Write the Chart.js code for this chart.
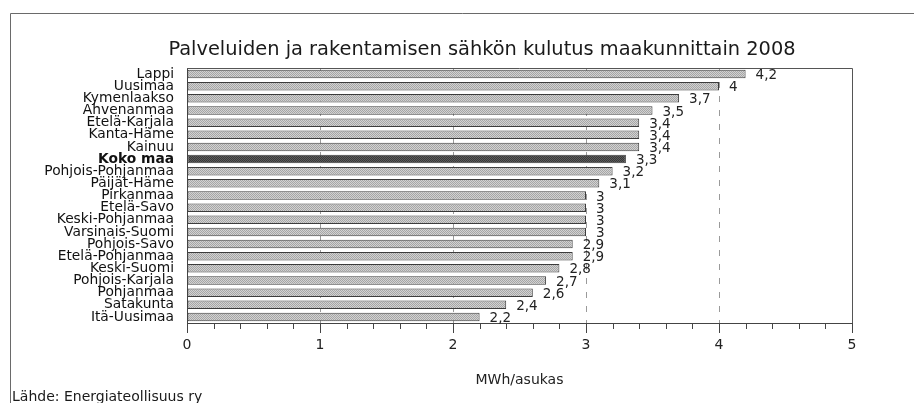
<!DOCTYPE html>
<html>
<head>
<meta charset="utf-8">
<script src="https://cdn.jsdelivr.net/npm/chart.js@4/dist/chart.umd.min.js"></script>
<style>
html,body{margin:0;padding:0;background:#fff;}
#wrap{width:914px;height:403px;position:relative;}
</style>
</head>
<body>
<div id="wrap"><canvas id="c" width="914" height="403"></canvas></div>
<script>
const chartTitle = "Palveluiden ja rakentamisen sähkön kulutus maakunnittain 2008";
const axisTitle = "MWh/asukas";
const sourceText = "Lähde: Energiateollisuus ry";
const categories = ["Lappi","Uusimaa","Kymenlaakso","Ahvenanmaa","Etelä-Karjala","Kanta-Häme","Kainuu","Koko maa","Pohjois-Pohjanmaa","Päijät-Häme","Pirkanmaa","Etelä-Savo","Keski-Pohjanmaa","Varsinais-Suomi","Pohjois-Savo","Etelä-Pohjanmaa","Keski-Suomi","Pohjois-Karjala","Pohjanmaa","Satakunta","Itä-Uusimaa"];
const values = [4.2,4,3.7,3.5,3.4,3.4,3.4,3.3,3.2,3.1,3,3,3,3,2.9,2.9,2.8,2.7,2.6,2.4,2.2];
const highlightCategory = "Koko maa";
const xMin = 0, xMax = 5, xStep = 1, minorStep = 0.2;

const FONT = "'DejaVu Sans', sans-serif";

function makePattern(c1, c2){
  const p = document.createElement('canvas');
  p.width = 2; p.height = 2;
  const g = p.getContext('2d');
  g.fillStyle = c1; g.fillRect(0,0,2,2);
  g.fillStyle = c2; g.fillRect(0,0,1,1); g.fillRect(1,1,1,1);
  return document.getElementById('c').getContext('2d').createPattern(p,'repeat');
}
const lightFill = makePattern('#d2d2d2','#a6a6a6');
const darkFill = makePattern('#5c5c5c','#383838');

const decorPlugin = {
  id:'decor',
  beforeDraw(chart){
    const ctx = chart.ctx;
    ctx.save();
    ctx.fillStyle = '#fff';
    ctx.fillRect(0,0,chart.width,chart.height);
    ctx.strokeStyle = '#6a6a6a';
    ctx.lineWidth = 1;
    ctx.beginPath();
    ctx.moveTo(10.5,403); ctx.lineTo(10.5,13.5); ctx.lineTo(914,13.5);
    ctx.stroke();
    ctx.fillStyle = '#1a1a1a';
    ctx.font = "19.4px " + FONT;
    ctx.textAlign = 'center';
    ctx.textBaseline = 'alphabetic';
    ctx.fillText(chartTitle, 482, 54.5);
    ctx.font = "14px " + FONT;
    ctx.textAlign = 'left';
    ctx.fillText(sourceText, 12, 401);
    ctx.restore();
  },
  afterDatasetsDraw(chart){
    const ctx = chart.ctx;
    const a = chart.chartArea;
    const xs = chart.scales.x, ys = chart.scales.y;
    ctx.save();
    ctx.strokeStyle = '#555';
    ctx.lineWidth = 1;
    ctx.beginPath();
    ctx.moveTo(a.left, a.top+0.5); ctx.lineTo(Math.round(a.right)+0.5, a.top+0.5); ctx.lineTo(Math.round(a.right)+0.5, a.bottom);
    ctx.stroke();
    ctx.strokeStyle = '#444';
    ctx.beginPath();
    const n = Math.round((xMax - xMin)/minorStep);
    for(let i=0;i<=n;i++){
      const v = xMin + i*minorStep;
      const px = Math.round(xs.getPixelForValue(v))+0.5;
      const major = Math.abs(v/xStep - Math.round(v/xStep)) < 1e-6;
      ctx.moveTo(px, a.bottom);
      ctx.lineTo(px, a.bottom + (major ? 10 : 6));
    }
    ctx.stroke();
    ctx.fillStyle = '#222';
    ctx.font = "13.5px " + FONT;
    ctx.textAlign = 'left';
    ctx.textBaseline = 'middle';
    values.forEach((v,i)=>{
      const px = xs.getPixelForValue(v);
      const py = ys.getPixelForValue(i);
      ctx.fillText(String(v).replace('.',','), px + 10, py + 1.5);
    });
    ctx.restore();
  }
};

const hi = categories.indexOf(highlightCategory);

new Chart(document.getElementById('c'), {
  type:'bar',
  data:{
    labels: categories,
    datasets:[{
      data: values,
      backgroundColor: (c)=> c.dataIndex === hi ? darkFill : lightFill,
      borderColor: '#3c3c3c',
      borderWidth: 1,
      borderSkipped: false,
      barPercentage: 0.7,
      categoryPercentage: 1
    }]
  },
  options:{
    indexAxis:'y',
    responsive:false,
    animation:false,
    devicePixelRatio:1,
    layout:{padding:{top:68,right:62,left:0,bottom:0}},
    plugins:{legend:{display:false},tooltip:{enabled:false}},
    scales:{
      x:{
        min:xMin, max:xMax,
        afterFit(s){ s.height = 80; },
        ticks:{stepSize:xStep, color:'#222', font:{family:FONT,size:14}, padding:14,
               callback:(v)=>String(v).replace('.',',')},
        grid:{drawTicks:false, lineWidth:1,
              color:(c)=> (c.tick && c.tick.value>xMin && c.tick.value<xMax) ? '#9a9a9a' : 'rgba(0,0,0,0)'},
        border:{display:true,color:'#444',width:1,dash:[6,8]},
        title:{display:true,text:axisTitle,color:'#222',font:{family:FONT,size:14},padding:{top:0,bottom:14}}
      },
      y:{
        afterFit(s){ s.width = 187; },
        ticks:{autoSkip:false, color:'#111', padding:13,
               font:(c)=>({family:FONT,size:13.8,weight: c.index===hi ? 'bold':'normal'})},
        grid:{display:false, drawTicks:false},
        border:{display:true,color:'#444',width:1}
      }
    }
  },
  plugins:[decorPlugin]
});
</script>
</body>
</html>
